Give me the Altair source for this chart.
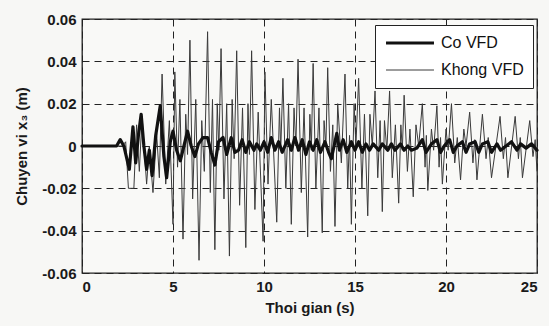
import altair as alt
import pandas as pd

# Displacement of storey 3 without the damper (thin line): time [s], value [m]
t_khong = [0.0, 2.2, 2.4, 2.55, 2.85, 3.0, 3.15, 3.3, 3.55, 3.7, 3.9, 4.1, 4.25,
           4.4, 4.6, 4.8, 5.0, 5.1, 5.25, 5.38, 5.55, 5.7, 5.8, 5.93, 6.08, 6.25,
           6.43, 6.58, 6.72, 6.9, 7.05, 7.17, 7.3, 7.43, 7.52, 7.64, 7.8, 7.95,
           8.1, 8.25, 8.36, 8.5, 8.66, 8.82, 9.0, 9.12, 9.2, 9.32, 9.5, 9.68,
           9.95, 10.05, 10.22, 10.4, 10.7, 10.85, 10.92, 11.04, 11.2, 11.35,
           11.5, 11.65, 11.75, 11.87, 12.05, 12.2, 12.4, 12.52, 12.6, 12.7,
           12.85, 13.02, 13.2, 13.3, 13.4, 13.5, 13.65, 13.78, 13.9, 14.05,
           14.25, 14.45, 14.6, 14.7, 14.8, 14.95, 15.05, 15.2, 15.38, 15.52,
           15.7, 15.82, 15.95, 16.1, 16.25, 16.38, 16.5, 16.62, 16.75, 16.9,
           17.05, 17.22, 17.4, 17.52, 17.6, 17.7, 17.88, 18.02, 18.2, 18.35,
           18.5, 18.7, 18.85, 18.92, 19.0, 19.2, 19.32, 19.5, 19.62, 19.7,
           19.8, 20.0, 20.12, 20.3, 20.48, 20.62, 20.8, 20.98, 21.1, 21.3,
           21.48, 21.58, 21.7, 22.0, 22.2, 22.32, 22.5, 22.97, 23.15, 23.27,
           23.4, 23.8, 23.98, 24.08, 24.2, 24.6, 24.78, 24.9, 25.0]
v_khong = [0.0, 0.0, 0.002, -0.02, -0.02, 0.01, -0.012, 0.014, -0.018, 0.0, -0.022, 0.006, -0.015,
           0.034, -0.018, 0.012, -0.037, 0.035, -0.01, 0.022, -0.044, 0.015, -0.004, 0.050, -0.025, 0.022,
           -0.054, 0.012, -0.012, 0.054, -0.022, 0.022, -0.049, 0.02, -0.002, 0.046, -0.025, 0.02,
           -0.052, 0.022, -0.006, 0.045, -0.028, 0.018, -0.048, 0.02, -0.004, 0.045, -0.03, 0.016,
           -0.045, 0.035, -0.018, 0.022, -0.036, 0.018, -0.002, 0.032, -0.02, 0.02,
           -0.037, 0.018, 0.0, 0.041, -0.022, 0.018, -0.043, 0.015, -0.002, 0.039,
           -0.02, 0.018, -0.041, 0.012, 0.0, 0.037, -0.012, 0.01, -0.038, 0.02,
           -0.008, 0.034, -0.02, 0.005, -0.037, 0.02, 0.0, 0.032, -0.02, 0.015,
           -0.033, 0.015, 0.0, 0.026, -0.015, 0.012, -0.031, 0.012, -0.002, 0.026,
           -0.015, 0.01, -0.027, 0.01, -0.002, 0.024, -0.012, 0.008, -0.024, 0.01,
           0.0, 0.02, -0.01, 0.005, -0.021, 0.008, -0.002, 0.019, -0.01, 0.004,
           -0.018, 0.008, -0.002, 0.02, -0.008, 0.004, -0.016, 0.008, 0.0, 0.016,
           -0.008, 0.003, -0.016, 0.015, -0.006, 0.004, -0.015, 0.014, -0.006, 0.004,
           -0.015, 0.014, -0.006, 0.004, -0.015, 0.012, -0.005, 0.003, -0.012]

# Displacement of storey 3 with the damper (thick line)
t_co = [0.0, 1.9, 2.1, 2.3, 2.6, 2.8, 2.95, 3.1, 3.25, 3.4, 3.55, 3.7, 3.85, 4.05,
        4.3, 4.5, 4.65, 4.85, 5.0, 5.2, 5.4, 5.6, 5.8, 6.0, 6.2, 6.4, 6.65, 6.9,
        7.1, 7.3, 7.5, 7.75, 7.95, 8.2, 8.4, 8.6, 8.8, 9.0, 9.2, 9.45, 9.6, 9.8,
        10.0, 10.2, 10.4, 10.6, 10.8, 11.0, 11.3, 11.5, 11.7, 11.9, 12.1, 12.3,
        12.5, 12.7, 12.9, 13.1, 13.35, 13.55, 13.7, 13.85, 14.0, 14.15, 14.35,
        14.55, 14.8, 15.0, 15.2, 15.4, 15.6, 15.8, 16.0, 16.3, 16.5, 16.8, 17.0,
        17.2, 17.5, 17.7, 17.9, 18.1, 18.4, 18.7, 18.9, 19.2, 19.5, 19.7, 19.9,
        20.2, 20.4, 20.6, 20.9, 21.1, 21.3, 21.6, 21.8, 22.0, 22.3, 22.5, 22.8,
        23.0, 23.3, 23.6, 23.9, 24.1, 24.4, 24.7, 25.0]
v_co = [0.0, 0.0, 0.003, 0.0, -0.011, 0.009, -0.008, 0.005, 0.015, 0.0, -0.011, -0.002, -0.014, 0.005,
        0.019, -0.005, -0.015, 0.002, 0.007, -0.002, -0.007, 0.0, 0.007, 0.0, -0.005, 0.001, 0.004, 0.004,
        -0.003, -0.009, 0.002, 0.004, -0.004, 0.004, -0.003, -0.002, 0.003, -0.003, 0.002, -0.002, 0.001, -0.002,
        0.002, -0.003, 0.004, -0.002, 0.002, -0.003, 0.003, -0.002, 0.004, -0.002, 0.003, -0.004,
        0.002, -0.002, 0.003, -0.003, 0.002, -0.003, -0.006, 0.0, 0.006, -0.002, 0.003,
        -0.003, 0.002, -0.002, 0.002, -0.003, 0.001, -0.002, 0.001, -0.002, 0.001, -0.002, 0.001,
        -0.002, 0.001, -0.002, 0.0, -0.002, -0.001, 0.003, -0.003, 0.001, 0.003, -0.003, 0.0,
        0.003, -0.003, 0.0, 0.002, -0.003, 0.001, 0.002, -0.003, 0.001, 0.002, -0.003, 0.001,
        -0.002, 0.0, 0.002, -0.002, 0.001, -0.001, 0.001, -0.002]

series_names = ["Co VFD", "Khong VFD"]
x_ticks = [0, 5, 10, 15, 20, 25]
y_ticks = [-0.06, -0.04, -0.02, 0, 0.02, 0.04, 0.06]

df_khong = pd.DataFrame({"t": t_khong, "x3": v_khong, "series": series_names[1]})
df_co = pd.DataFrame({"t": t_co, "x3": v_co, "series": series_names[0]})

FONT = "Liberation Sans"


def series_legend():
    return alt.Legend(title=None, orient="none", legendX=293, legendY=6,
                      symbolType="stroke", symbolSize=2300, clipHeight=18,
                      labelFontSize=16, labelFont=FONT, labelColor="#111",
                      rowPadding=9, padding=9, labelOffset=5,
                      strokeColor="#222", fillColor="#ffffff")


x_enc = alt.X("t:Q", scale=alt.Scale(domain=[0, 25], nice=False),
              axis=alt.Axis(values=x_ticks, title="Thoi gian (s)", format="d",
                            grid=True, gridDash=[7, 5], gridColor="#222", gridWidth=1,
                            ticks=False, domain=False, labelPadding=6, titlePadding=6))
y_enc = alt.Y("x3:Q", scale=alt.Scale(domain=[-0.06, 0.06], nice=False),
              axis=alt.Axis(values=y_ticks, title="Chuyen vi x\u2083 (m)",
                            labelExpr="toString(round(datum.value*100)/100)",
                            grid=True, gridDash=[7, 5], gridColor="#222", gridWidth=1,
                            ticks=False, domain=False, labelPadding=6, titlePadding=12))
color_enc = alt.Color("series:N", scale=alt.Scale(domain=series_names, range=["#111111", "#3a3a3a"]),
                      legend=series_legend())
width_enc = alt.StrokeWidth("series:N", scale=alt.Scale(domain=series_names, range=[3.2, 1.0]),
                            legend=series_legend())

thin = alt.Chart(df_khong).mark_line(strokeJoin="round").encode(
    x=x_enc, y=y_enc, color=color_enc, strokeWidth=width_enc)
thick = alt.Chart(df_co).mark_line(strokeJoin="round", strokeCap="round").encode(
    x=x_enc, y=y_enc, color=color_enc, strokeWidth=width_enc)

chart = alt.layer(thin, thick).properties(
    width=455, height=254,
    autosize=alt.AutoSizeParams(type="none"),
    padding={"left": 82, "top": 19, "right": 12, "bottom": 53},
    background="#f7f7f5",
).configure_view(
    stroke="#222", strokeWidth=1.3, fill="#f9f9f7"
).configure_axis(
    labelFont=FONT, labelFontSize=15, labelColor="#1a1a1a", labelFontWeight="bold",
    titleFont=FONT, titleFontSize=15, titleColor="#1a1a1a", titleFontWeight="bold",
)

chart.save("out.html", embed_options={"renderer": "svg", "actions": False})
